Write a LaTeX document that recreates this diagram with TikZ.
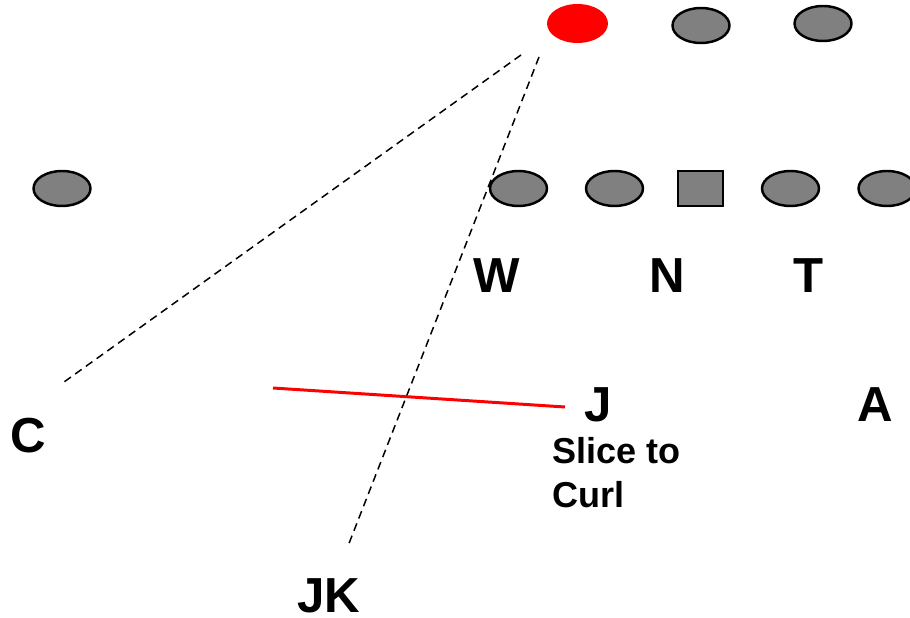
\documentclass[tikz,border=0pt]{standalone}
\usepackage{fontspec}
\setmainfont{Liberation Sans}
\usetikzlibrary{shapes.geometric}

\begin{document}
\begin{tikzpicture}[x=0.02cm,y=-0.02cm,
  font=\bfseries\fontsize{28}{34}\selectfont,
  player/.style={ellipse,draw=black,line width=1.4pt,fill=gray,inner sep=0pt,minimum width=1.14cm,minimum height=0.7cm},
  center/.style={rectangle,draw=black,line width=1.4pt,fill=gray,inner sep=0pt,minimum width=0.89cm,minimum height=0.69cm},
  tag/.style={anchor=base,inner sep=0pt},
  read/.style={black,line width=0.85pt,dash pattern=on 4.5pt off 3pt}]
 \useasboundingbox (0,0) rectangle (910,618);
 % back row, the red one is the key read
 \node[ellipse,fill=red,inner sep=0pt,minimum width=1.22cm,minimum height=0.78cm] (key) at (577.5,23.5) {};
 \node[player] (s2) at (701,25.5) {};
 \node[player] (s3) at (823,23.5) {};
 % front row
 \node[player] (wide) at (62,188.5) {};
 \node[player] (l1) at (518.5,188.5) {};
 \node[player] (l2) at (614.5,188.5) {};
 \node[center] (ctr) at (700.5,188.5) {};
 \node[player] (l4) at (790.5,188.5) {};
 \node[player] (l5) at (887,188.5) {};
 % letters
 \node[tag] (W) at (497,293) {W};
 \node[tag] (N) at (667,293) {N};
 \node[tag] (T) at (809,293) {T};
 \node[tag] (J) at (598,421) {J};
 \node[tag] (A) at (875,421) {A};
 \node[tag] (C) at (28,452) {C};
 \node[tag] (JK) at (329,612) {JK};
 % base of a two-line node sits on its last line
 \node[anchor=base west,inner sep=0pt,align=left,font=\bfseries\fontsize{20.5}{25}\selectfont] (route) at (552,507) {Slice to\\Curl};
 % reads and the route
 \coordinate (eyeA) at (521,55); \coordinate (eyeB) at (539,57);
 \coordinate (endC) at (64,382); \coordinate (endJK) at (348,546);
 \coordinate (slA) at (273,388); \coordinate (slB) at (565,407);
 \draw[read] (eyeA) -- (endC);
 \draw[read] (eyeB) -- (endJK);
 \draw[red,line width=1.7pt] (slA) -- (slB);
\end{tikzpicture}
\end{document}
